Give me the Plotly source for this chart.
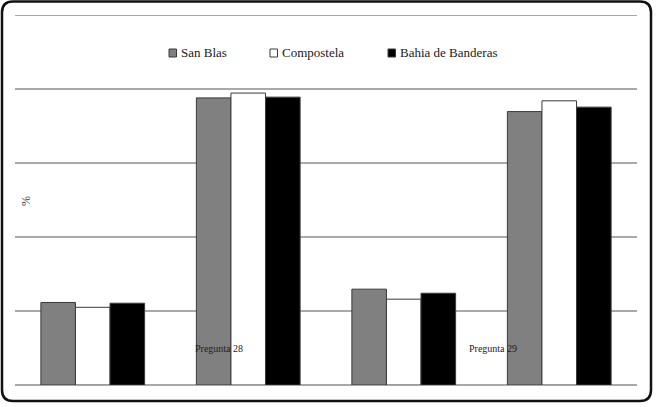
import plotly.graph_objects as go

# ---- data ----
categories = ["P28 a", "P28 b", "P29 a", "P29 b"]
question_labels = ["Pregunta 28", "Pregunta 29"]
series_names = ["San Blas", "Compostela", "Bahia de Banderas"]
san_blas = [22.3, 77.6, 25.9, 73.9]
compostela = [21.0, 78.9, 23.2, 76.8]
bahia = [22.1, 77.8, 24.8, 75.1]
y_ticks = [0, 20, 40, 60, 80, 100]

# ---- styles / layout ----
W, H = 658, 407
L, R, T, B = 15, 21, 15, 22
fills = ["#808080", "#ffffff", "#000000"]
outline = "#3a3a3a"
grid_col = "#a9a9a9"
serif = "Liberation Serif, Times New Roman, serif"

pw = W - L - R
ph = H - T - B


def px(x):
    return (x - L) / pw


def py(y):
    return (H - B - y) / ph


fig = go.Figure()
for name, vals, col in zip(series_names, [san_blas, compostela, bahia], fills):
    fig.add_trace(go.Bar(
        x=categories, y=vals, name=name,
        marker=dict(color=col, line=dict(color=outline, width=1)),
        showlegend=False,
    ))

shapes = []
annotations = []

# top gridline (at the range edge) drawn explicitly
shapes.append(dict(type="line", xref="paper", yref="y", x0=0, x1=1,
                   y0=y_ticks[-1], y1=y_ticks[-1], line=dict(color=grid_col, width=2),
                   layer="below"))

# custom legend (symbol close to text, as in the reference)
leg_sym_x = [169, 270, 388]
leg_y = 53
for name, col, sx in zip(series_names, fills, leg_sym_x):
    shapes.append(dict(type="rect", xref="paper", yref="paper",
                       x0=px(sx), x1=px(sx + 7.5), y0=py(leg_y + 4), y1=py(leg_y - 4),
                       fillcolor=col, line=dict(color=outline, width=1)))
    annotations.append(dict(text=name, xref="paper", yref="paper",
                            x=px(sx + 10), y=py(leg_y), xanchor="left", yanchor="middle",
                            showarrow=False, font=dict(family=serif, size=13, color="#1a1a1a")))

# question labels
for lab, cx in zip(question_labels, [219, 493]):
    annotations.append(dict(text=lab, xref="paper", yref="paper",
                            x=px(cx), y=py(348), xanchor="center", yanchor="middle",
                            showarrow=False, font=dict(family=serif, size=10, color="#222222")))

# "%" axis label
annotations.append(dict(text="%", xref="paper", yref="paper", x=px(26), y=py(201),
                        xanchor="center", yanchor="middle", textangle=-90, showarrow=False,
                        font=dict(family=serif, size=12, color="#333333")))

# rounded outer frame
x0, x1, y0, y1, r = 2, 651, 1.5, 401, 11


def P(x, y):
    return f"{px(x):.5f},{py(y):.5f}"


path = (f"M{P(x0 + r, y0)} L{P(x1 - r, y0)} Q{P(x1, y0)} {P(x1, y0 + r)} "
        f"L{P(x1, y1 - r)} Q{P(x1, y1)} {P(x1 - r, y1)} "
        f"L{P(x0 + r, y1)} Q{P(x0, y1)} {P(x0, y1 - r)} "
        f"L{P(x0, y0 + r)} Q{P(x0, y0)} {P(x0 + r, y0)} Z")
shapes.append(dict(type="path", xref="paper", yref="paper", path=path,
                   line=dict(color="#111111", width=2.5), layer="above"))

fig.update_layout(
    width=W, height=H,
    margin=dict(l=L, r=R, t=T, b=B, pad=0),
    paper_bgcolor="white", plot_bgcolor="white",
    barmode="group", bargap=0.333, bargroupgap=0,
    xaxis=dict(showticklabels=False, showgrid=False, zeroline=False, showline=False,
               ticks="", fixedrange=True),
    yaxis=dict(range=[0, 100], tickvals=y_ticks, showticklabels=False,
               showgrid=True, gridcolor=grid_col, gridwidth=2,
               zeroline=True, zerolinecolor=grid_col, zerolinewidth=2,
               showline=False, ticks=""),
    shapes=shapes, annotations=annotations,
    font=dict(family=serif),
    hovermode=False,
)

fig.write_html("out.html",
               config={"displayModeBar": False, "staticPlot": True},
               post_script="document.body.style.margin='0';document.body.style.padding='0';")
